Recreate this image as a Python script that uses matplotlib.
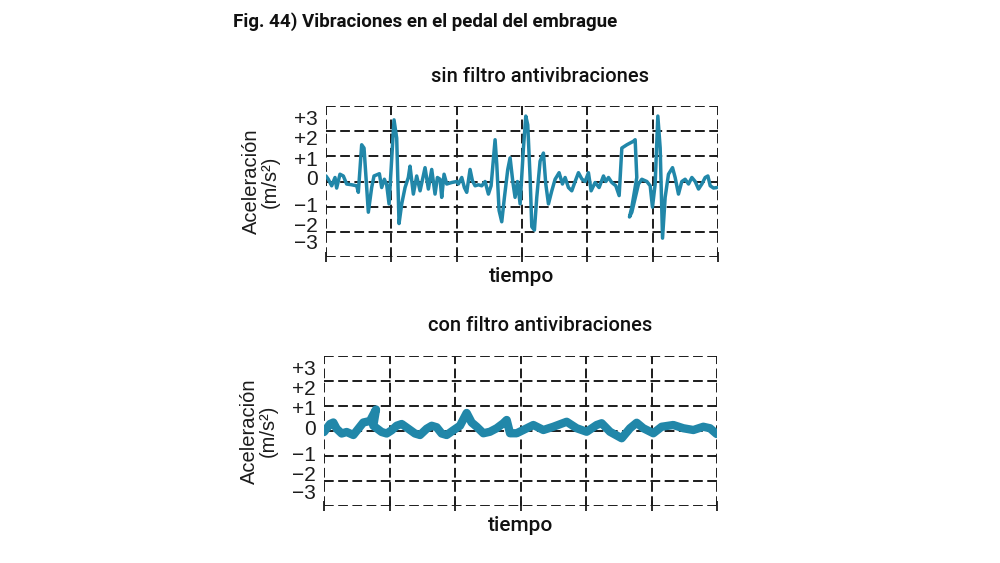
import matplotlib.pyplot as plt

# datos (tiempo en divisiones, aceleracion en m/s2)
t_sin = [0.0, 0.035, 0.087, 0.138, 0.163, 0.214, 0.265, 0.316, 0.393, 0.47, 0.495,
         0.546, 0.582, 0.648, 0.699, 0.735, 0.817, 0.852, 0.893, 0.929, 0.965,
         1.006, 1.041, 1.082, 1.118, 1.159, 1.21, 1.26, 1.286, 1.337, 1.388, 1.44,
         1.516, 1.567, 1.618, 1.669, 1.705, 1.746, 1.771, 1.807, 1.848, 1.924, 2.0,
         2.026, 2.078, 2.118, 2.154, 2.205, 2.241, 2.282, 2.333, 2.384, 2.435, 2.486,
         2.527, 2.588, 2.614, 2.649, 2.69, 2.731, 2.782, 2.818, 2.859, 2.894, 2.93,
         2.971, 3.022, 3.058, 3.088, 3.124, 3.15, 3.19, 3.226, 3.277, 3.328, 3.364,
         3.405, 3.456, 3.507, 3.568, 3.619, 3.66, 3.711, 3.762, 3.813, 3.864, 3.916,
         3.966, 4.017, 4.058, 4.119, 4.18, 4.247, 4.283, 4.324, 4.375, 4.436, 4.487,
         4.528, 4.605, 4.706, 4.732, 4.757, 4.681, 4.645, 4.681, 4.783, 4.834, 4.911,
         4.962, 4.997, 5.038, 5.079, 5.115, 5.151, 5.191, 5.242, 5.304, 5.344, 5.395,
         5.446, 5.497, 5.549, 5.6, 5.651, 5.702, 5.753, 5.804, 5.845, 5.881, 5.932,
         5.983]
a_sin = [0.22, 0.09, -0.17, 0.16, -0.26, 0.29, 0.22, -0.1, -0.13, -0.17, -0.43,
         1.46, 1.33, -1.22, -0.24, 0.22, 0.31, -0.24, 0.09, -0.13, -0.89,
         0.94, 2.45, 1.73, -1.67, -0.89, -0.24, 0.16, 0.61, -0.5, 0.22, -0.37,
         0.55, -0.3, 0.48, -0.5, 0.16, 0.09, -0.63, 0.29, -0.1, -0.04, 0.0,
         -0.1, 0.16, -0.24, -0.43, 0.48, 0.03, -0.17, -0.13, -0.17, 0.0, -0.5,
         -0.17, 1.66, 0.68, -1.15, -1.6, -0.63, 0.48, 0.94, 0.0, -0.63, 0.0,
         -0.89, 1.33, 2.6, 2.25, 0.16, -1.8, -1.93, -0.63, 0.81, 1.13, -0.1,
         -0.89, -0.37, 0.09, 0.35, -0.1, 0.16, -0.24, -0.37, 0.0, 0.35, 0.1,
         0.0, 0.35, -0.37, -0.04, -0.24, 0.22, 0.0, 0.16, -0.04, -0.17, -0.56,
         1.33, 1.46, 1.6, 1.66, 0.16, -1.02, -1.41, -1.22, -0.1, 0.09, 0.0,
         -0.17, -1.02, -0.1, 2.6, 1.33, -2.25, -0.63, 0.29, 0.55, 0.16, -0.5,
         0.0, 0.09, -0.1, 0.16, 0.0, -0.3, -0.1, 0.16, 0.22, -0.17, -0.26,
         -0.24]

t_con = [0.0, 0.092, 0.142, 0.193, 0.27, 0.346, 0.448, 0.524, 0.6, 0.702, 0.794,
         0.753, 0.88, 0.957, 1.033, 1.109, 1.186, 1.288, 1.389, 1.466, 1.567,
         1.644, 1.72, 1.796, 1.873, 1.975, 2.076, 2.178, 2.254, 2.331, 2.433,
         2.534, 2.636, 2.738, 2.789, 2.84, 2.941, 3.043, 3.196, 3.349, 3.501,
         3.705, 3.858, 4.01, 4.163, 4.239, 4.366, 4.545, 4.672, 4.774, 4.875,
         5.028, 5.155, 5.333, 5.486, 5.639, 5.791, 5.893, 5.995]
a_con = [-0.04, 0.28, 0.34, 0.09, -0.1, -0.04, -0.16, 0.09, 0.34, 0.4, 0.86,
         0.21, -0.04, -0.1, 0.03, 0.21, 0.28, 0.09, -0.1, -0.16, 0.09,
         0.21, 0.15, -0.1, -0.16, 0.03, 0.21, 0.72, 0.34, 0.17, -0.09,
         -0.03, 0.11, 0.31, 0.44, -0.09, -0.09, 0.04, 0.24, 0.04, 0.17,
         0.37, 0.11, -0.03, 0.24, 0.31, -0.03, -0.29, 0.11, 0.33, 0.11,
         -0.09, 0.17, 0.24, 0.11, 0.04, 0.17, 0.11, -0.12]

grid_y = [-3, -2, -1, 0, 1, 2, 3]
grid_x = [0, 1, 2, 3, 4, 5, 6]
etiquetas = ['\u22123', '\u22122', '\u22121', '0', '+1', '+2', '+3']
pos_etiquetas = [-2.4, -1.7, -0.9, 0.14, 0.93, 1.73, 2.55]

narrow = 'Roboto'
arial = 'Liberation Sans'
azul = '#2187a9'
negro = '#1c1c1c'
dash = (0, (5, 2.3))

fig = plt.figure(figsize=(10, 5.63), dpi=100)


def panel(rect, t, a, lw, titulo, ty):
    ax = fig.add_axes(rect)
    ax.plot(t, a, color=azul, lw=lw, solid_joinstyle='round', solid_capstyle='round', zorder=3)
    ax.set_xlim(0, 6)
    ax.set_ylim(-3, 3)
    ax.set_xticks(grid_x)
    ax.set_xticklabels([])
    ax.set_yticks(grid_y, minor=True)
    ax.set_yticks(pos_etiquetas)
    ax.set_yticklabels(etiquetas, fontsize=15, family=arial, color=negro)
    ax.tick_params(axis='y', which='both', length=0, pad=6)
    ax.tick_params(axis='x', direction='inout', length=7, width=1.3, color=negro)
    for gx in grid_x:
        ax.axvline(gx, color=negro, lw=1.4, ls=dash, zorder=1)
    for gy in grid_y:
        ax.axhline(gy, color=negro, lw=1.4, ls=dash, zorder=1)
    for s in ax.spines.values():
        s.set_visible(False)
    ax.set_ylabel('Aceleración\n(m/s²)', family=arial, fontsize=14.5, color=negro,
                  linespacing=1.0, labelpad=10)
    ax.set_xlabel('tiempo', family=narrow, fontsize=15, fontweight='medium',
                  color='#111111', labelpad=0)
    fig.text(0.540, ty, titulo, family=narrow, fontsize=14.5, fontweight='medium',
             color='#111111', ha='center', va='center')
    return ax


panel([0.326, 0.5435, 0.392, 0.2682], t_sin, a_sin, 2.5, 'sin filtro antivibraciones', 0.865)
panel([0.324, 0.1012, 0.393, 0.2665], t_con, a_con, 6.0, 'con filtro antivibraciones', 0.421)

fig.text(0.233, 0.961, 'Fig. 44) Vibraciones en el pedal del embrague', family=narrow,
         fontsize=13.5, fontweight='bold', color='#111111', ha='left', va='center')

fig.savefig('out.png', dpi=100)
